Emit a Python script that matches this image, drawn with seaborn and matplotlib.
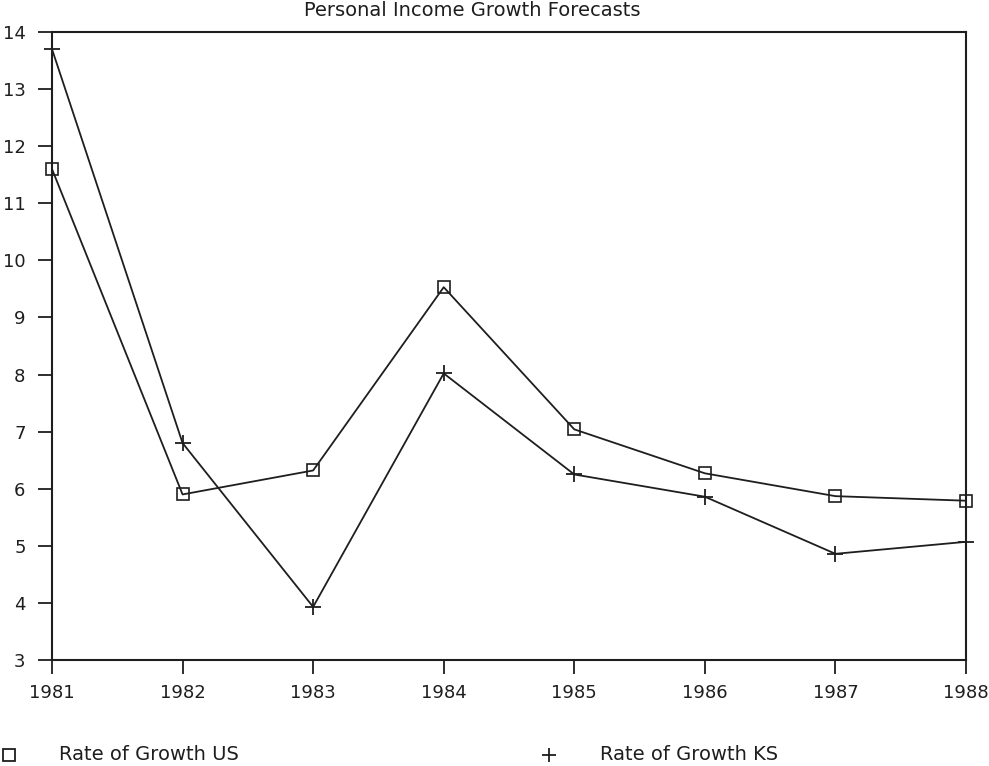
import pandas as pd
import seaborn as sns
import matplotlib.pyplot as plt
from matplotlib.lines import Line2D

years = [1981, 1982, 1983, 1984, 1985, 1986, 1987, 1988]
growth_us = [11.6, 5.9, 6.32, 9.53, 7.04, 6.27, 5.87, 5.79]
growth_ks = [13.7, 6.8, 3.93, 8.02, 6.25, 5.86, 4.86, 5.07]
labels = ["Rate of Growth US", "Rate of Growth KS"]

df = pd.DataFrame({"year": years, "us": growth_us, "ks": growth_ks})

sns.set_style("ticks")
plt.rcParams["font.family"] = ["DejaVu Sans"]

W, H = 989, 766
fig = plt.figure(figsize=(W / 100, H / 100), dpi=100)
ax = fig.add_axes([52 / W, 1 - 660 / H, (966 - 52) / W, (660 - 32) / H])

ink = "#1e1e1e"
# US series: open squares
sns.lineplot(data=df, x="year", y="us", marker="s", markersize=9,
             markerfacecolor="none", markeredgecolor=ink, markeredgewidth=1.2,
             color=ink, linewidth=1.3, clip_on=False, ax=ax)
# KS series: plus signs
sns.lineplot(data=df, x="year", y="ks", marker="+", markersize=11,
             markeredgecolor=ink, markeredgewidth=1.3,
             color=ink, linewidth=1.3, clip_on=False, ax=ax)

ax.set_xlim(1981, 1988)
ax.set_ylim(3, 14)
ax.set_xticks(years)
ax.set_yticks(range(3, 15))
ax.set_xlabel("")
ax.set_ylabel("")
ax.tick_params(labelsize=13, length=10, width=1.3, color=ink, labelcolor=ink, pad=7)
ax.tick_params(axis="y", pad=9)
for s in ax.spines.values():
    s.set_visible(True)
    s.set_linewidth(1.5)
    s.set_color(ink)

fig.text(472 / W, 1 - 11 / H, "Personal Income Growth Forecasts", fontsize=14,
         color=ink, ha="center", va="center")

# legend below the plot
leg_y = 1 - 755 / H
fig.add_artist(Line2D([9 / W], [leg_y], transform=fig.transFigure, marker="s",
                      ls="none", color=ink, mfc="none", markersize=8, mew=1.3))
fig.add_artist(Line2D([549 / W], [leg_y], transform=fig.transFigure, marker="+",
                      ls="none", color=ink, markersize=10, mew=1.3))
fig.text(59 / W, leg_y, labels[0], fontsize=14, color=ink, ha="left", va="center")
fig.text(600 / W, leg_y, labels[1], fontsize=14, color=ink, ha="left", va="center")

fig.savefig("out.png", dpi=100)
